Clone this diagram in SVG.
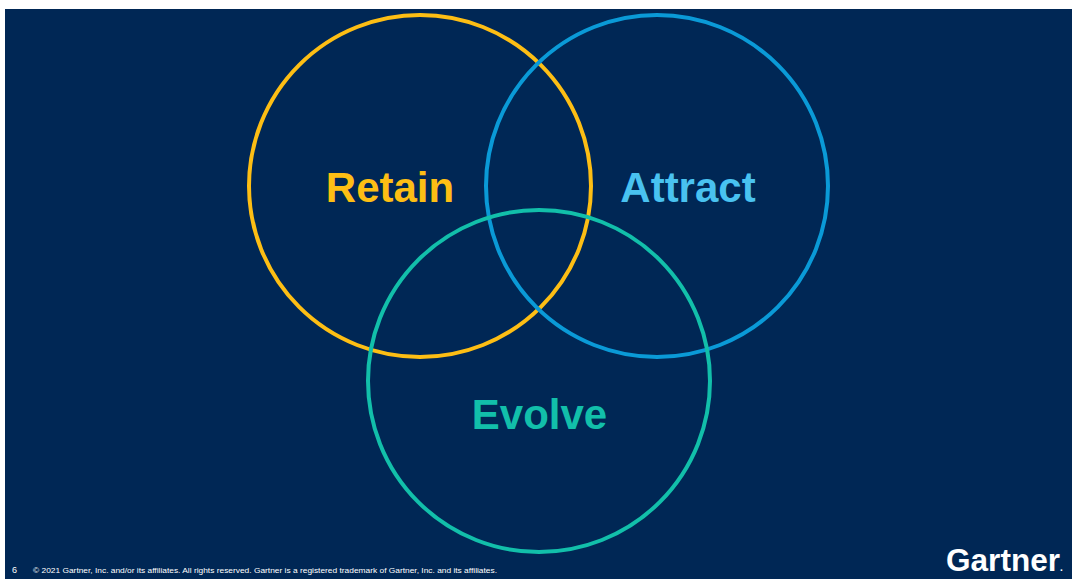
<svg xmlns="http://www.w3.org/2000/svg" width="1072" height="579" viewBox="0 0 1072 579">
<style>
.ring{fill:none;stroke-width:4}
.lbl{font-family:"Liberation Sans",Arial,sans-serif;font-weight:bold;font-size:42px;text-anchor:middle}
.foot{font-family:"Liberation Sans",Arial,sans-serif;fill:#ffffff}
</style>
<rect x="0" y="0" width="1072" height="579" fill="#ffffff"/>
<rect x="5" y="9" width="1067" height="570" fill="#002755"/>
<g id="retain">
<circle class="ring" cx="420" cy="186" r="171" stroke="#FDBE14"/>
<text class="lbl" x="390" y="202" fill="#FDBE14">Retain</text>
</g>
<g id="attract">
<circle class="ring" cx="657" cy="186" r="171" stroke="#0A9AD7"/>
<text class="lbl" x="688" y="202" fill="#49C2F0">Attract</text>
</g>
<g id="evolve">
<circle class="ring" cx="539" cy="381" r="171" stroke="#12BFAA"/>
<text class="lbl" x="539.5" y="429" fill="#12BFAA">Evolve</text>
</g>
<g id="connectors"></g>
<g id="footer">
<text class="foot" x="12" y="573" font-size="9">6</text>
<text class="foot" x="33" y="573" font-size="7" textLength="464" lengthAdjust="spacingAndGlyphs">© 2021 Gartner, Inc. and/or its affiliates. All rights reserved. Gartner is a registered trademark of Gartner, Inc. and its affiliates.</text>
<text class="foot" x="946" y="571" font-size="31" font-weight="bold" textLength="114" lengthAdjust="spacingAndGlyphs">Gartner</text>
<text class="foot" x="1060" y="571" font-size="10" font-weight="bold" fill="#c8d0dc">.</text>
</g>
</svg>
